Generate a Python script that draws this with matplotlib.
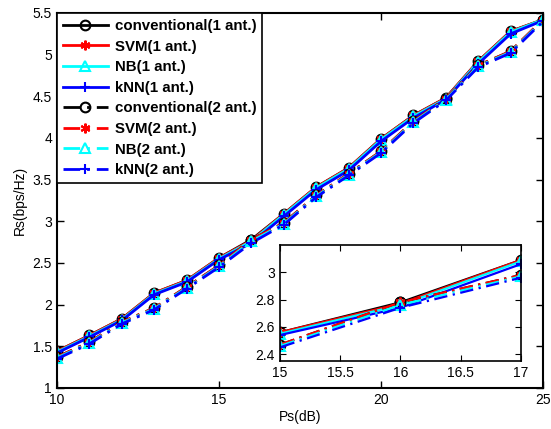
import matplotlib
matplotlib.use("Agg")
import matplotlib.pyplot as plt

plt.rcParams['font.family'] = ['Liberation Sans', 'DejaVu Sans']

ps_db = [10, 11, 12, 13, 14, 15, 16, 17, 18, 19, 20, 21, 22, 23, 24, 25]

conv_1 = [1.44, 1.63, 1.83, 2.14, 2.29, 2.56, 2.78, 3.09, 3.41, 3.64, 3.99, 4.27, 4.48, 4.92, 5.28, 5.42]
svm_1  = [1.44, 1.63, 1.83, 2.14, 2.29, 2.56, 2.77, 3.09, 3.41, 3.64, 3.99, 4.27, 4.48, 4.92, 5.28, 5.42]
nb_1   = [1.43, 1.62, 1.82, 2.13, 2.28, 2.55, 2.76, 3.08, 3.40, 3.63, 3.98, 4.26, 4.47, 4.91, 5.27, 5.42]
knn_1  = [1.42, 1.61, 1.81, 2.12, 2.27, 2.54, 2.74, 3.06, 3.38, 3.61, 3.96, 4.24, 4.46, 4.89, 5.25, 5.41]

conv_2 = [1.37, 1.55, 1.79, 1.96, 2.21, 2.47, 2.78, 2.98, 3.31, 3.57, 3.84, 4.20, 4.47, 4.87, 5.04, 5.42]
svm_2  = [1.37, 1.55, 1.79, 1.96, 2.21, 2.47, 2.78, 2.98, 3.31, 3.57, 3.84, 4.20, 4.47, 4.87, 5.04, 5.42]
nb_2   = [1.36, 1.54, 1.78, 1.95, 2.20, 2.46, 2.76, 2.97, 3.30, 3.56, 3.83, 4.19, 4.46, 4.86, 5.03, 5.41]
knn_2  = [1.35, 1.53, 1.77, 1.94, 2.19, 2.45, 2.74, 2.96, 3.29, 3.55, 3.82, 4.18, 4.45, 4.85, 5.02, 5.40]

labels = ['conventional(1 ant.)', 'SVM(1 ant.)', 'NB(1 ant.)', 'kNN(1 ant.)',
          'conventional(2 ant.)', 'SVM(2 ant.)', 'NB(2 ant.)', 'kNN(2 ant.)']
series = [conv_1, svm_1, nb_1, knn_1, conv_2, svm_2, nb_2, knn_2]
colors = ['black', 'red', 'cyan', 'blue'] * 2
markers = ['o', (6, 2, 0), '^', '+'] * 2
styles = ['-'] * 4 + [(0, (6, 2.5, 1, 2.5))] * 4

fig = plt.figure(figsize=(5.51, 4.29), dpi=100)
ax = fig.add_axes([0.1034, 0.0956, 0.8821, 0.8741])

def draw(a, ms=7, lw=2):
    for y, lab, c, m, ls in zip(series, labels, colors, markers, styles):
        open_m = m in ('o', '^')
        a.plot(ps_db, y, linestyle=ls, color=c, marker=m, markersize=ms,
               markerfacecolor='none' if open_m else c, markeredgecolor=c,
               markeredgewidth=1.5, linewidth=lw, label=lab)

draw(ax)
ax.set_xlim(10, 25)
ax.set_ylim(1, 5.5)
ax.set_xticks([10, 15, 20, 25])
ax.set_yticks([1, 1.5, 2, 2.5, 3, 3.5, 4, 4.5, 5, 5.5])
ax.set_yticklabels(['1', '1.5', '2', '2.5', '3', '3.5', '4', '4.5', '5', '5.5'])
ax.tick_params(direction='in', top=True, right=True, labelsize=10, length=5, width=1)
for s in ax.spines.values():
    s.set_linewidth(1.5)
ax.set_xlabel('Ps(dB)', fontsize=10, labelpad=2)
ax.set_ylabel('Rs(bps/Hz)', fontsize=10, labelpad=4)

leg = ax.legend(loc='upper left', bbox_to_anchor=(0, 1), borderaxespad=0,
                fancybox=False, framealpha=1, edgecolor='black',
                prop={'weight': 'bold', 'size': 10.8}, handlelength=3.0,
                labelspacing=0.44, borderpad=0.4, handletextpad=0.45)
leg.get_frame().set_linewidth(1.2)

ins = fig.add_axes([0.508, 0.1585, 0.4374, 0.2704])
draw(ins, lw=1.6)
ins.set_xlim(15, 17)
ins.set_ylim(2.35, 3.2)
ins.set_xticks([15, 15.5, 16, 16.5, 17])
ins.set_xticklabels(['15', '15.5', '16', '16.5', '17'])
ins.set_yticks([2.4, 2.6, 2.8, 3.0])
ins.set_yticklabels(['2.4', '2.6', '2.8', '3'])
ins.tick_params(direction='in', top=True, right=True, labelsize=10, length=4)
for s in ins.spines.values():
    s.set_linewidth(1.2)

fig.savefig('out.png', dpi=100)
